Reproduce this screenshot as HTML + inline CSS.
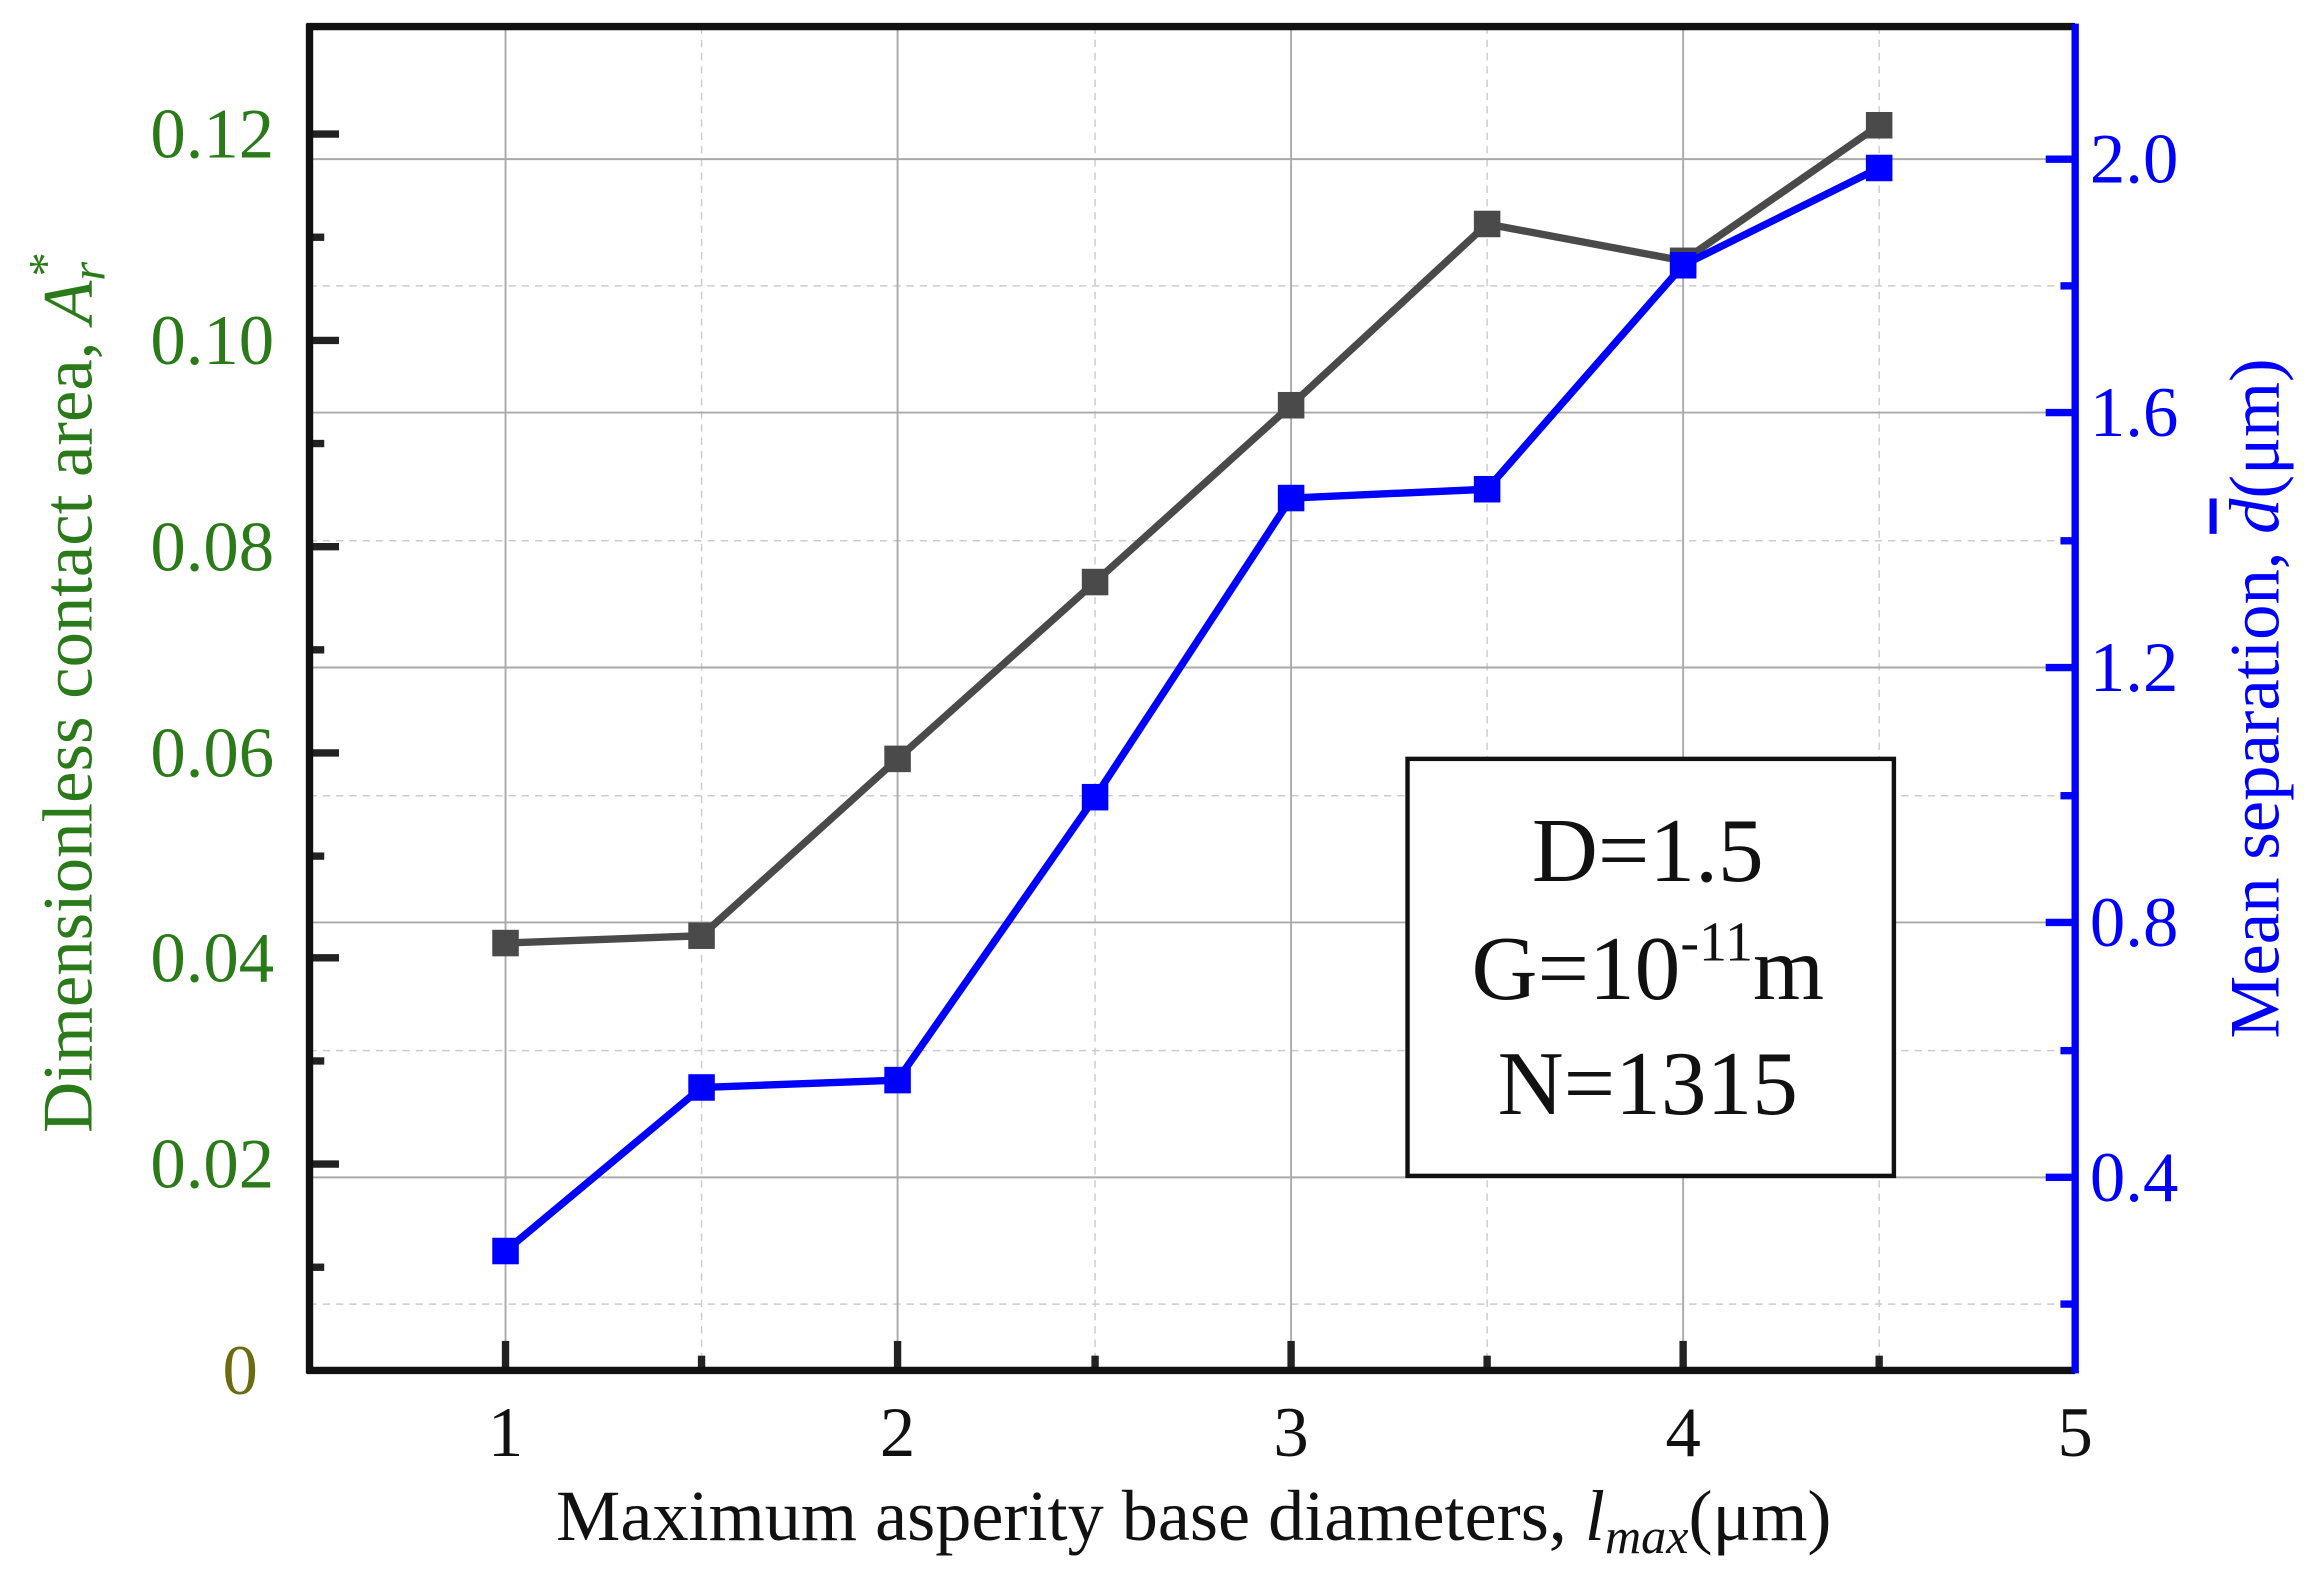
<!DOCTYPE html>
<html><head><meta charset="utf-8"><style>html,body{margin:0;padding:0;background:#fff}svg{display:block}</style></head><body>
<svg width="2311" height="1587" viewBox="0 0 1568 1077" preserveAspectRatio="none" xmlns="http://www.w3.org/2000/svg" font-family="'Liberation Serif', serif">
<rect width="1568" height="1077" fill="#fff"/>
<g stroke="#ccc" stroke-width="1" stroke-dasharray="5,4">
<line x1="476" y1="18" x2="476" y2="930"/><line x1="743" y1="18" x2="743" y2="930"/><line x1="1009" y1="18" x2="1009" y2="930"/><line x1="1275" y1="18" x2="1275" y2="930"/>
<line x1="210" y1="194" x2="1408" y2="194"/><line x1="210" y1="367" x2="1408" y2="367"/><line x1="210" y1="540" x2="1408" y2="540"/><line x1="210" y1="713" x2="1408" y2="713"/><line x1="210" y1="885" x2="1408" y2="885"/>
</g>
<g stroke="#aaa" stroke-width="1.3">
<line x1="343" y1="18" x2="343" y2="930"/><line x1="609" y1="18" x2="609" y2="930"/><line x1="876" y1="18" x2="876" y2="930"/><line x1="1142" y1="18" x2="1142" y2="930"/>
<line x1="210" y1="108" x2="1408" y2="108"/><line x1="210" y1="280" x2="1408" y2="280"/><line x1="210" y1="453" x2="1408" y2="453"/><line x1="210" y1="626" x2="1408" y2="626"/><line x1="210" y1="799" x2="1408" y2="799"/>
</g>
<g stroke="#222" stroke-width="5">
<line x1="210" y1="91" x2="230" y2="91"/><line x1="210" y1="231" x2="230" y2="231"/><line x1="210" y1="371" x2="230" y2="371"/><line x1="210" y1="511" x2="230" y2="511"/><line x1="210" y1="650" x2="230" y2="650"/><line x1="210" y1="790" x2="230" y2="790"/>
<line x1="210" y1="161" x2="220" y2="161"/><line x1="210" y1="301" x2="220" y2="301"/><line x1="210" y1="441" x2="220" y2="441"/><line x1="210" y1="581" x2="220" y2="581"/><line x1="210" y1="720" x2="220" y2="720"/><line x1="210" y1="860" x2="220" y2="860"/>
<line x1="343" y1="930" x2="343" y2="910"/><line x1="609" y1="930" x2="609" y2="910"/><line x1="876" y1="930" x2="876" y2="910"/><line x1="1142" y1="930" x2="1142" y2="910"/>
<line x1="476" y1="930" x2="476" y2="920"/><line x1="743" y1="930" x2="743" y2="920"/><line x1="1009" y1="930" x2="1009" y2="920"/><line x1="1275" y1="930" x2="1275" y2="920"/>
</g>
<g stroke="#0000ff" stroke-width="5">
<line x1="1388" y1="108" x2="1408" y2="108"/><line x1="1388" y1="280" x2="1408" y2="280"/><line x1="1388" y1="453" x2="1408" y2="453"/><line x1="1388" y1="626" x2="1408" y2="626"/><line x1="1388" y1="799" x2="1408" y2="799"/>
<line x1="1398" y1="194" x2="1408" y2="194"/><line x1="1398" y1="367" x2="1408" y2="367"/><line x1="1398" y1="540" x2="1408" y2="540"/><line x1="1398" y1="713" x2="1408" y2="713"/><line x1="1398" y1="885" x2="1408" y2="885"/>
</g>
<line x1="208" y1="18" x2="1408" y2="18" stroke="#111" stroke-width="5"/>
<line x1="208" y1="930" x2="1408" y2="930" stroke="#111" stroke-width="5"/>
<line x1="210" y1="16" x2="210" y2="932" stroke="#111" stroke-width="5"/>
<line x1="1408" y1="16" x2="1408" y2="932" stroke="#0000ff" stroke-width="5"/>
<polyline fill="none" stroke="#4a4a4a" stroke-width="5" points="343,640 476,635 609,515 743,395 876,275 1009,152 1142,177 1275,85"/>
<g fill="#4a4a4a"><rect x="334" y="631" width="18" height="18"/><rect x="467" y="626" width="18" height="18"/><rect x="600" y="506" width="18" height="18"/><rect x="734" y="386" width="18" height="18"/><rect x="867" y="266" width="18" height="18"/><rect x="1000" y="143" width="18" height="18"/><rect x="1133" y="168" width="18" height="18"/><rect x="1266" y="76" width="18" height="18"/></g>
<polyline fill="none" stroke="#0000ff" stroke-width="5" points="343,849 476,738 609,733 743,541 876,338 1009,332 1142,180 1275,114"/>
<g fill="#0000ff"><rect x="334" y="840" width="18" height="18"/><rect x="467" y="729" width="18" height="18"/><rect x="600" y="724" width="18" height="18"/><rect x="734" y="532" width="18" height="18"/><rect x="867" y="329" width="18" height="18"/><rect x="1000" y="323" width="18" height="18"/><rect x="1133" y="171" width="18" height="18"/><rect x="1266" y="105" width="18" height="18"/></g>
<g fill="#2a7a1a" font-size="48" text-anchor="end">
<text x="186" y="107">0.12</text><text x="186" y="247">0.10</text><text x="186" y="387">0.08</text><text x="186" y="527">0.06</text><text x="186" y="666">0.04</text><text x="186" y="806">0.02</text><text x="175" y="946" fill="#6b6b10">0</text>
</g>
<g fill="#0000ff" font-size="48">
<text x="1418" y="124">2.0</text><text x="1418" y="296">1.6</text><text x="1418" y="469">1.2</text><text x="1418" y="642">0.8</text><text x="1418" y="815">0.4</text>
</g>
<g fill="#111" font-size="48" text-anchor="middle">
<text x="343" y="988">1</text><text x="609" y="988">2</text><text x="876" y="988">3</text><text x="1142" y="988">4</text><text x="1408" y="988">5</text>
</g>
<text x="810" y="1045" font-size="49" text-anchor="middle" fill="#111">Maximum asperity base diameters, <tspan font-style="italic">l</tspan><tspan font-style="italic" font-size="34" dy="9">max</tspan><tspan dy="-9">(μm)</tspan></text>
<text transform="translate(62,470) rotate(-90)" font-size="48" text-anchor="middle" fill="#2a7a1a">Dimensionless contact area, <tspan font-style="italic">A</tspan><tspan font-style="italic" font-size="33" dy="9">r</tspan><tspan font-size="33" dy="-29" dx="-10">*</tspan></text>
<text transform="translate(1546,474) rotate(-90)" font-size="48" text-anchor="middle" fill="#0000ff">Mean separation, <tspan font-style="italic" text-decoration="overline">d</tspan>(μm)</text>
<rect x="955" y="515" width="330" height="283" fill="#fff" stroke="#111" stroke-width="3"/>
<g font-size="62" text-anchor="middle" fill="#111">
<text x="1118" y="598">D=1.5</text>
<text x="1118" y="678">G=10<tspan font-size="38" dy="-26">-11</tspan><tspan dy="26">m</tspan></text>
<text x="1118" y="756">N=1315</text>
</g>
</svg>
</body></html>
